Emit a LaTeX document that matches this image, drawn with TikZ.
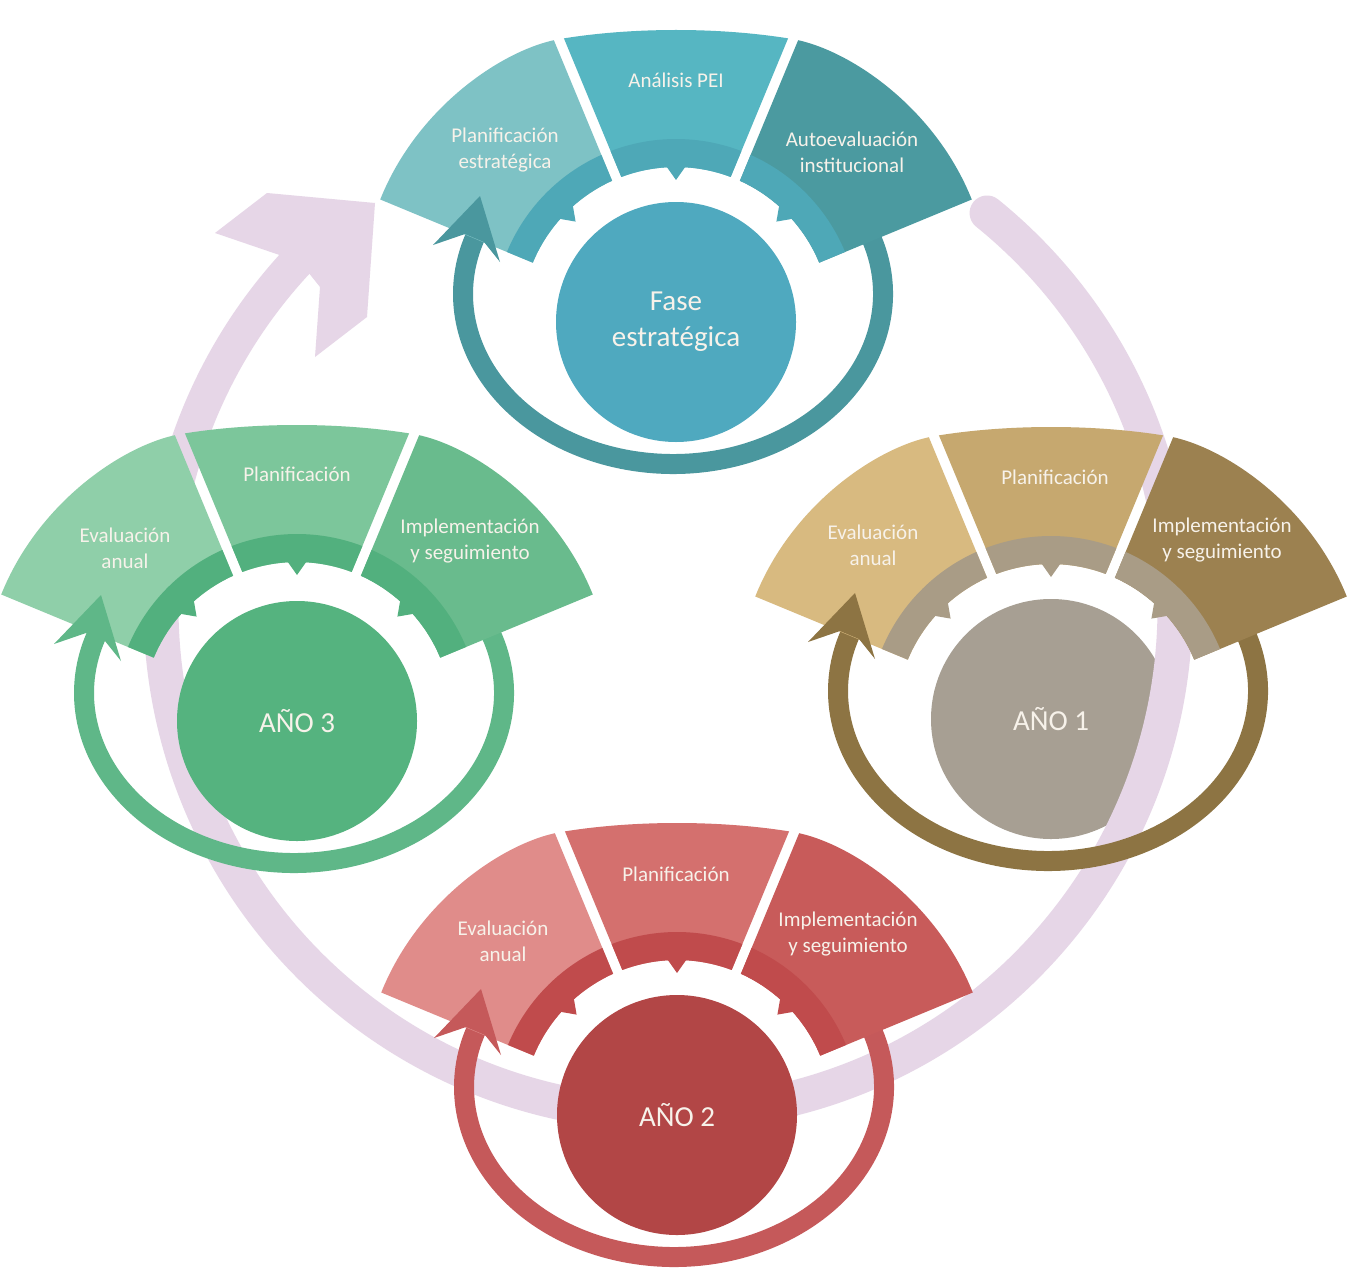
\documentclass[tikz,border=0pt]{standalone}
\usepackage{fontspec}
\setmainfont{Carlito}
\definecolor{pinkring}{HTML}{E6D6E7}
\definecolor{lbl}{HTML}{F7F2EA}
\definecolor{tlA}{HTML}{7EC2C5}
\definecolor{tlB}{HTML}{56B6C2}
\definecolor{tlC}{HTML}{4B9AA0}
\definecolor{tlD}{HTML}{4EA8B7}
\definecolor{tlR}{HTML}{4A979E}
\definecolor{tlO}{HTML}{4FA9BF}
\definecolor{gdA}{HTML}{D8BA80}
\definecolor{gdB}{HTML}{C6A86F}
\definecolor{gdC}{HTML}{9C8150}
\definecolor{gdD}{HTML}{A99C86}
\definecolor{gdR}{HTML}{8D7443}
\definecolor{gdO}{HTML}{A79F93}
\definecolor{rdA}{HTML}{E08C8A}
\definecolor{rdB}{HTML}{D4706E}
\definecolor{rdC}{HTML}{C85B5A}
\definecolor{rdD}{HTML}{C04B4C}
\definecolor{rdR}{HTML}{C5595A}
\definecolor{rdO}{HTML}{B24646}
\definecolor{gnA}{HTML}{8FCFA9}
\definecolor{gnB}{HTML}{7CC69B}
\definecolor{gnC}{HTML}{69BB8D}
\definecolor{gnD}{HTML}{52B07E}
\definecolor{gnR}{HTML}{5FB788}
\definecolor{gnO}{HTML}{55B37F}
\newcommand\segpiece[5]{\fill[#1] ({#2+asin(#3/155)}:155) arc[start angle={#2+asin(#3/155)}, end angle={#4-asin(#5/155)}, radius=155] -- ({#4-asin(#5/420)}:420) arc[start angle={#4-asin(#5/420)}, end angle={#2+asin(#3/420)}, radius=420] -- cycle;}
\newcommand\bandpiece[5]{\fill[#1] ({#2+asin(#3/155)}:155) arc[start angle={#2+asin(#3/155)}, end angle={#4-asin(#5/155)}, radius=155] -- ({#4-asin(#5/183)}:183) arc[start angle={#4-asin(#5/183)}, end angle={#2+asin(#3/183)}, radius=183] -- cycle;}
\newcommand\tooth[2]{\fill[#1] ({#2-4}:158) -- (#2:142) -- ({#2+4}:158) -- cycle;}
\newcommand\cluster[4]{%
\begin{scope}[shift={(#1,#2)}]
 \draw[line width=20, #4R] (-3,-28) ++(-30:210 and 170) arc[start angle=-30, end angle=201, x radius=210, y radius=170];
 \begin{scope}[shift={(0,#3)}]
  \begin{scope}
   \clip (-305,-95) .. controls (-275,-205) and (-176,-273) .. (-116,-283)
     .. controls (-80,-289) and (-40,-292) .. (0,-292)
     .. controls (40,-292) and (80,-289) .. (116,-283)
     .. controls (176,-273) and (275,-205) .. (305,-95)
     -- (305,100) -- (-305,100) -- cycle;
   \segpiece{#4A}{-157.5}{0}{-112.5}{5}
   \segpiece{#4B}{-112.5}{5}{-67.5}{5}
   \segpiece{#4C}{-67.5}{5}{-22.5}{0}
  \end{scope}
  \bandpiece{#4D}{-157.5}{0}{-112.5}{5}
  \bandpiece{#4D}{-112.5}{5}{-67.5}{5}
  \bandpiece{#4D}{-67.5}{5}{-22.5}{0}
  \tooth{#4D}{-135}
  \tooth{#4D}{-90}
  \tooth{#4D}{-45}
 \end{scope}
 \fill[#4R] (-196,-126) -- (-176,-60) -- (-192,-80) -- (-211,-88) -- (-243,-77) -- cycle;
\end{scope}}
\tikzset{
  seglbl/.style={text=lbl, align=center, font=\fontsize{21}{26}\selectfont, inner sep=0},
  ctrlbl/.style={circle, inner sep=0, minimum size=240, text=lbl, align=center, font=\fontsize{29}{36}\selectfont}
}
\begin{document}
\begin{tikzpicture}[x=1pt,y=-1pt]
\fill[white] (0,0) rectangle (1348,1276);
\useasboundingbox (0,0) rectangle (1348,1276);
% circle of year 1 lies under the big ring
\node[ctrlbl, fill=gdO] (ano1) at (1051,719) {AÑO 1};
% big cycle arrow
\draw[line width=35, pinkring, line cap=round] (668,607) ++(-51:507) arc[start angle=-51, end angle=225, radius=507];
\fill[pinkring] (215,233) -- (267,193) -- (375,203) -- (367,317) -- (315,357) -- (320,287) -- (300,262) -- cycle;
% clusters
\cluster{676}{322}{0}{tl}
\node[ctrlbl, fill=tlO] (fase) at (676,322) {Fase\\estratégica};
\cluster{1051}{719}{0}{gd}
\cluster{677}{1115}{0}{rd}
\node[ctrlbl, fill=rdO] (ano2) at (677,1115) {AÑO 2};
\cluster{297}{721}{-4}{gn}
\node[ctrlbl, fill=gnO] (ano3) at (297,721) {AÑO 3};
% labels
\node[seglbl] (t1) at (505,150) {Planificación\\estratégica};
\node[seglbl] (t2) at (676,80) {Análisis PEI};
\node[seglbl] (t3) at (852,152) {Autoevaluación\\institucional};
\node[seglbl] (a1) at (873,545) {Evaluación\\anual};
\node[seglbl] (a2) at (1055,477) {Planificación};
\node[seglbl] (a3) at (1222,540) {Implementación\\y seguimiento};
\node[seglbl] (b1) at (503,941) {Evaluación\\anual};
\node[seglbl] (b2) at (676,874) {Planificación};
\node[seglbl] (b3) at (848,934) {Implementación\\y seguimiento};
\node[seglbl] (c1) at (125,548) {Evaluación\\anual};
\node[seglbl] (c2) at (297,474) {Planificación};
\node[seglbl] (c3) at (470,541) {Implementación\\y seguimiento};
\end{tikzpicture}
\end{document}
